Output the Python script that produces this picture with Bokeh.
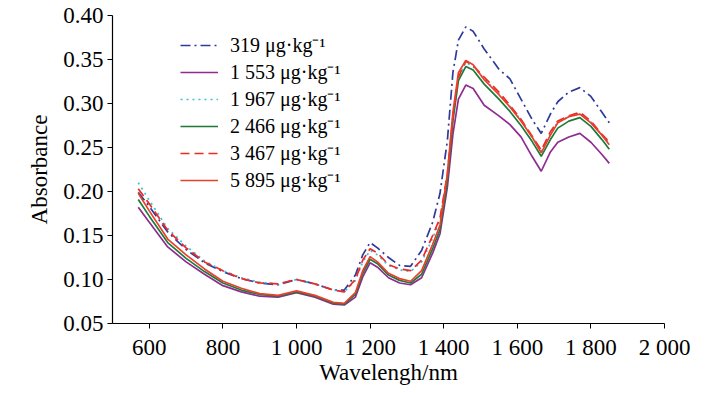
from bokeh.plotting import figure
from bokeh.models import FixedTicker, Legend, LegendItem
from bokeh.embed import file_html
from bokeh.resources import INLINE

wavelength = [570, 600, 650, 700, 750, 800, 850, 900, 950, 1000, 1050, 1100, 1130, 1160,
              1180, 1200, 1220, 1250, 1280, 1310, 1340, 1370, 1390, 1410, 1425, 1440,
              1460, 1480, 1510, 1550, 1580, 1610, 1640, 1665, 1690, 1710, 1740, 1770,
              1800, 1830, 1850]

s319 = [0.199, 0.183, 0.154, 0.134, 0.119, 0.109, 0.101, 0.096, 0.094, 0.100, 0.095, 0.088,
        0.088, 0.105, 0.128, 0.142, 0.136, 0.125, 0.116, 0.115, 0.133, 0.165, 0.198, 0.258,
        0.335, 0.372, 0.387, 0.382, 0.362, 0.339, 0.328, 0.305, 0.282, 0.266, 0.288, 0.302,
        0.313, 0.318, 0.308, 0.290, 0.278]
s1553 = [0.182, 0.165, 0.137, 0.120, 0.106, 0.093, 0.086, 0.081, 0.080, 0.085, 0.080, 0.072,
         0.071, 0.080, 0.103, 0.119, 0.114, 0.102, 0.096, 0.094, 0.102, 0.130, 0.152, 0.205,
         0.265, 0.305, 0.321, 0.317, 0.298, 0.286, 0.276, 0.262, 0.240, 0.223, 0.245, 0.256,
         0.262, 0.266, 0.256, 0.242, 0.232]
s1967 = [0.210, 0.190, 0.158, 0.138, 0.121, 0.110, 0.102, 0.097, 0.095, 0.100, 0.095, 0.088,
         0.086, 0.099, 0.120, 0.133, 0.128, 0.116, 0.111, 0.109, 0.120, 0.147, 0.168, 0.218,
         0.283, 0.329, 0.347, 0.342, 0.328, 0.311, 0.297, 0.281, 0.262, 0.246, 0.266, 0.279,
         0.285, 0.289, 0.279, 0.264, 0.255]
s2466 = [0.191, 0.172, 0.142, 0.124, 0.109, 0.096, 0.088, 0.083, 0.081, 0.086, 0.081, 0.073,
         0.072, 0.083, 0.107, 0.123, 0.118, 0.105, 0.099, 0.096, 0.106, 0.135, 0.157, 0.212,
         0.280, 0.326, 0.342, 0.338, 0.322, 0.305, 0.291, 0.275, 0.257, 0.240, 0.259, 0.272,
         0.280, 0.284, 0.274, 0.259, 0.248]
s3467 = [0.203, 0.186, 0.156, 0.136, 0.120, 0.110, 0.101, 0.096, 0.095, 0.100, 0.095, 0.088,
         0.086, 0.100, 0.122, 0.135, 0.130, 0.117, 0.112, 0.110, 0.122, 0.150, 0.170, 0.220,
         0.285, 0.330, 0.348, 0.343, 0.330, 0.313, 0.298, 0.282, 0.263, 0.247, 0.268, 0.280,
         0.286, 0.290, 0.280, 0.265, 0.256]
s5895 = [0.198, 0.178, 0.146, 0.128, 0.112, 0.098, 0.090, 0.084, 0.082, 0.087, 0.082, 0.074,
         0.073, 0.085, 0.110, 0.126, 0.120, 0.107, 0.101, 0.098, 0.110, 0.140, 0.162, 0.220,
         0.290, 0.335, 0.349, 0.344, 0.327, 0.310, 0.296, 0.280, 0.262, 0.244, 0.264, 0.278,
         0.285, 0.288, 0.278, 0.264, 0.253]

labels = ["319 μg·kg⁻¹", "1 553 μg·kg⁻¹", "1 967 μg·kg⁻¹",
          "2 466 μg·kg⁻¹", "3 467 μg·kg⁻¹", "5 895 μg·kg⁻¹"]

x_ticks = [600, 800, 1000, 1200, 1400, 1600, 1800, 2000]
x_tick_labels = ["600", "800", "1 000", "1 200", "1 400", "1 600", "1 800", "2 000"]
y_ticks = [0.05, 0.10, 0.15, 0.20, 0.25, 0.30, 0.35, 0.40]
y_tick_labels = ["0.05", "0.10", "0.15", "0.20", "0.25", "0.30", "0.35", "0.40"]

FONT = "'Liberation Serif', 'Times New Roman', serif"

p = figure(frame_width=552, frame_height=308, min_border_left=112, min_border_right=46,
           min_border_top=15, min_border_bottom=60,
           x_range=(500, 2000), y_range=(0.05, 0.40),
           output_backend="svg", toolbar_location=None)
p.outline_line_color = None
p.background_fill_color = "white"
p.border_fill_color = "white"
p.xgrid.visible = False
p.ygrid.visible = False

styles = [
    (s319, "#2E3A9C", "10 4 2 4"),
    (s1553, "#8E2C90", "solid"),
    (s1967, "#3CC0DA", "2 4"),
    (s2466, "#1F7A3A", "solid"),
    (s3467, "#EE2A24", "9 5"),
    (s5895, "#E8402E", "solid"),
]
items = []
for (ys, col, dash), lab in zip(styles, labels):
    r = p.line(wavelength, ys, line_color=col, line_width=1.7, line_dash=dash)
    items.append(LegendItem(label=lab, renderers=[r]))

leg = Legend(items=items, location=(68, 130), border_line_color=None,
             background_fill_alpha=0, padding=0, margin=0, spacing=0,
             label_height=24, glyph_height=24, glyph_width=38, label_standoff=12,
             label_text_font=FONT, label_text_font_size="20px", label_text_color="black")
p.add_layout(leg, "center")

for ax in (p.xaxis[0], p.yaxis[0]):
    ax.axis_line_color = "black"
    ax.axis_line_width = 1.2
    ax.major_tick_line_color = "black"
    ax.major_tick_in = 0
    ax.major_tick_out = 5
    ax.minor_tick_line_color = None
    ax.major_label_text_font = FONT
    ax.major_label_text_font_size = "23px"
    ax.major_label_text_color = "black"
    ax.axis_label_text_font = FONT
    ax.axis_label_text_font_size = "23px"
    ax.axis_label_text_font_style = "normal"
    ax.axis_label_text_color = "black"

p.xaxis.ticker = FixedTicker(ticks=x_ticks)
p.xaxis.major_label_overrides = {t: l for t, l in zip(x_ticks, x_tick_labels)}
p.yaxis.ticker = FixedTicker(ticks=y_ticks)
p.yaxis.major_label_overrides = {t: l for t, l in zip(y_ticks, y_tick_labels)}
p.xaxis.axis_label = "Wavelengh/nm"
p.yaxis.axis_label = "Absorbance"
p.xaxis.major_label_standoff = 6
p.yaxis.major_label_standoff = 4
p.xaxis.axis_label_standoff = -3
p.yaxis.axis_label_standoff = 8

open("out.html", "w").write(file_html(p, INLINE))
